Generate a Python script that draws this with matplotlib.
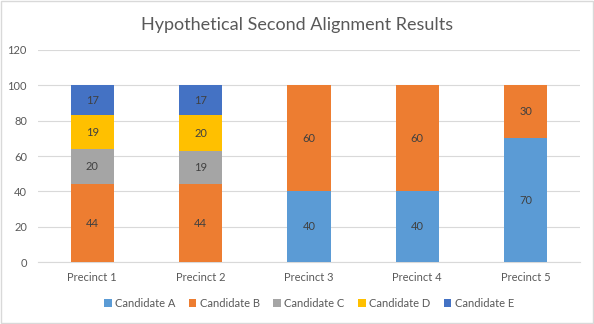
import matplotlib
matplotlib.use("Agg")
import matplotlib.pyplot as plt
import numpy as np

precincts = ["Precinct 1", "Precinct 2", "Precinct 3", "Precinct 4", "Precinct 5"]
candidates = ["Candidate A", "Candidate B", "Candidate C", "Candidate D", "Candidate E"]
cand_a = [0, 0, 40, 40, 70]
cand_b = [44, 44, 60, 60, 30]
cand_c = [20, 19, 0, 0, 0]
cand_d = [19, 20, 0, 0, 0]
cand_e = [17, 17, 0, 0, 0]
y_ticks = [0, 20, 40, 60, 80, 100, 120]

COLORS = ["#5B9BD5", "#ED7D31", "#A5A5A5", "#FFC000", "#4472C4"]
TEXT_CLR = "#595959"
GRID_CLR = "#D9D9D9"

plt.rcParams["font.family"] = ["Lato", "DejaVu Sans"]

fig = plt.figure(figsize=(5.94, 3.24), dpi=100)
ax = fig.add_axes([0.064, 0.191, 0.912, 0.655])

x = np.arange(len(precincts))
bottom = np.zeros(len(precincts))
for name, vals, color in zip(candidates, [cand_a, cand_b, cand_c, cand_d, cand_e], COLORS):
    vals = np.array(vals, dtype=float)
    ax.bar(x, vals, width=0.4, bottom=bottom, color=color, label=name, zorder=3)
    for xi, b, v in zip(x, bottom, vals):
        if v > 0:
            ax.text(xi, b + v / 2, f"{v:.0f}", ha="center", va="center",
                    fontsize=8, color="#404040", zorder=4)
    bottom += vals

ax.set_xlim(-0.5, len(precincts) - 0.5)
ax.set_ylim(0, 120)
ax.set_yticks(y_ticks)
ax.set_xticks(x)
ax.set_xticklabels(precincts)
ax.tick_params(length=0, colors=TEXT_CLR, labelsize=8)
ax.tick_params(axis="x", pad=7)
ax.tick_params(axis="y", pad=8)
ax.yaxis.grid(True, color=GRID_CLR, linewidth=0.8, zorder=0)
for side in ["top", "right", "left"]:
    ax.spines[side].set_visible(False)
ax.spines["bottom"].set_color(GRID_CLR)

fig.text(0.5, 0.922, "Hypothetical Second Alignment Results", ha="center", va="center",
         fontsize=13, color=TEXT_CLR)

ax.legend(loc="center", bbox_to_anchor=(0.5, -0.193), ncol=5, frameon=False,
          fontsize=8, labelcolor=TEXT_CLR, handlelength=0.7, handleheight=0.7,
          handletextpad=0.3, columnspacing=1.2)

fig.patches.append(plt.Rectangle((0.001, 0.002), 0.997, 0.995, transform=fig.transFigure,
                                 fill=False, edgecolor=GRID_CLR, linewidth=1))

fig.savefig("out.png", dpi=100, facecolor="white")
